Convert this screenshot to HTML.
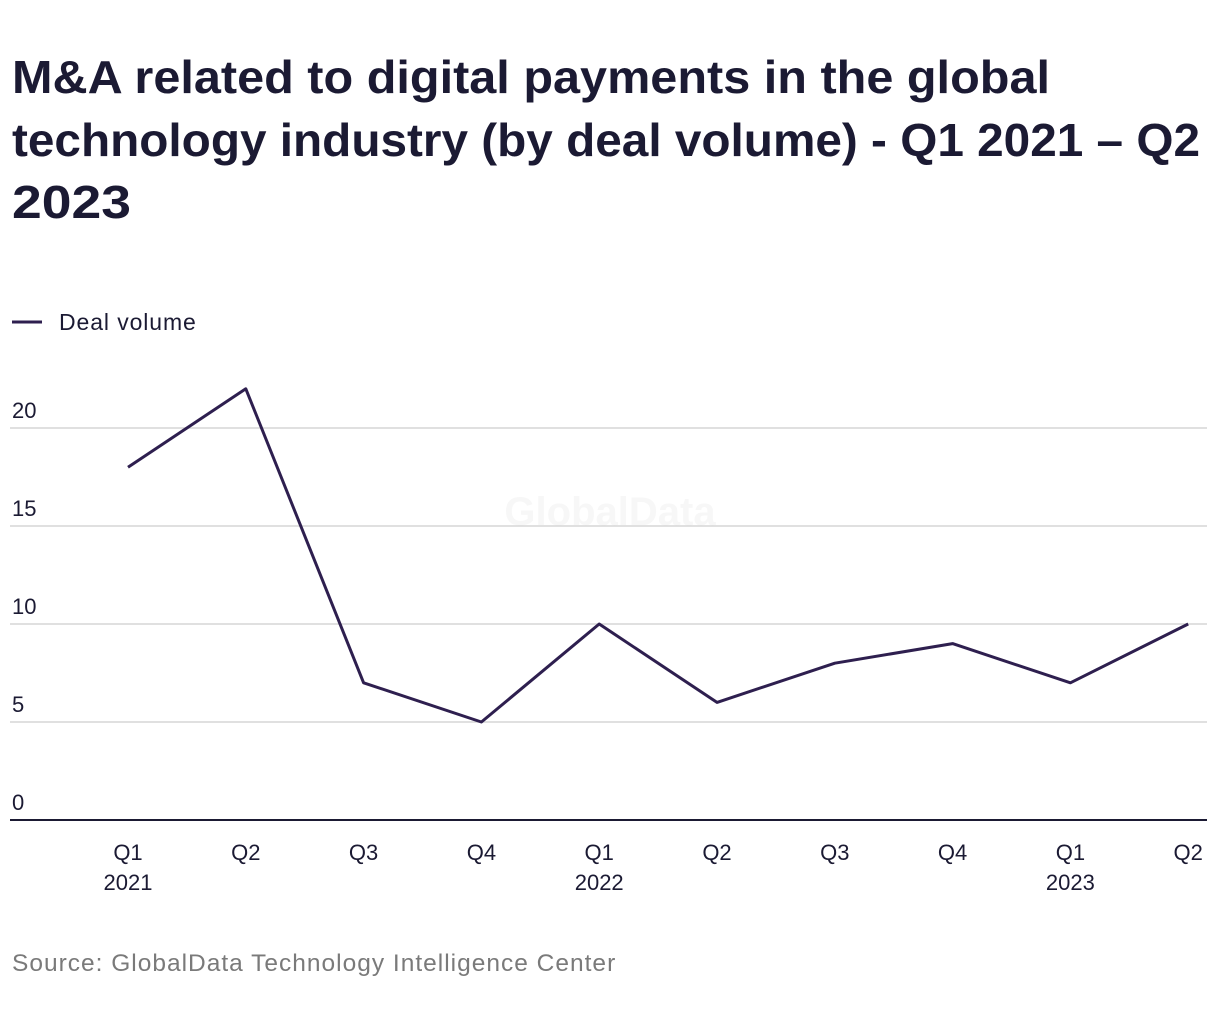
<!DOCTYPE html>
<html><head><meta charset="utf-8">
<style>
body{margin:0;background:#fff;font-family:"Liberation Sans",sans-serif;}
#wrap{position:relative;width:1220px;height:1020px;overflow:hidden;}
</style></head><body>
<div id="wrap">
<svg id="chart" width="1220" height="1020" style="position:absolute;left:0;top:0">
<g font-size="46" font-weight="bold" fill="#1b1a33">
<text x="12" y="93" textLength="1038" lengthAdjust="spacingAndGlyphs">M&amp;A related to digital payments in the global</text>
<text x="12" y="156" textLength="1188" lengthAdjust="spacingAndGlyphs">technology industry (by deal volume) - Q1 2021 – Q2</text>
<text x="12" y="218" textLength="119" lengthAdjust="spacingAndGlyphs">2023</text>
</g>
</svg>
</div>
<script>
const categories=["Q1","Q2","Q3","Q4","Q1","Q2","Q3","Q4","Q1","Q2"];
const years=["2021","","","","2022","","","","2023",""];
const values=[18,22,7,5,10,6,8,9,7,10];
const yTicks=[0,5,10,15,20];
const svg=document.getElementById('chart');
const NS='http://www.w3.org/2000/svg';
function x(i){return 128+i*117.8;}
function y(v){return 820-v*19.6;}
function mk(t,a,p){const e=document.createElementNS(NS,t);for(const k in a)e.setAttribute(k,a[k]);(p||svg).appendChild(e);return e;}
const lg=mk('line',{x1:12,x2:42,y1:322,y2:322,stroke:'#2e1f4f','stroke-width':3});


const lt=mk('text',{x:59,y:330,'font-size':23,fill:'#1b1a33','letter-spacing':'0.9'});lt.textContent='Deal volume';


const wm=mk('text',{x:610,y:525,'font-size':40,'font-weight':'bold',fill:'#f7f7f7','text-anchor':'middle'});wm.textContent='GlobalData';


yTicks.forEach(t=>{
  if(t>0){const g=mk('line',{x1:10,x2:1207,y1:y(t),y2:y(t),stroke:'#d6d6d6','stroke-width':1.5});
  
  }
  const l=mk('text',{x:12,y:y(t)-10,'font-size':22,fill:'#1b1a33'});l.textContent=t;
  
  
});
const ax=mk('line',{x1:10,x2:1207,y1:820,y2:820,stroke:'#1b1a33','stroke-width':2});


categories.forEach((c,i)=>{
  const t=mk('text',{x:x(i),y:860,'font-size':22,fill:'#1b1a33','text-anchor':'middle'});t.textContent=c;
  
  
  if(years[i]){const yt=mk('text',{x:x(i),y:890,'font-size':22,fill:'#1b1a33','text-anchor':'middle'});yt.textContent=years[i];
  
  }
});
const pts=values.map((v,i)=>x(i)+','+y(v)).join(' ');
const pl=mk('polyline',{points:pts,fill:'none',stroke:'#2e1f4f','stroke-width':3,'stroke-linejoin':'round'});


const src=mk('text',{x:12,y:971,'font-size':24.5,fill:'#7a7a7a','letter-spacing':'1'});src.textContent='Source: GlobalData Technology Intelligence Center';


</script>
</body></html>
